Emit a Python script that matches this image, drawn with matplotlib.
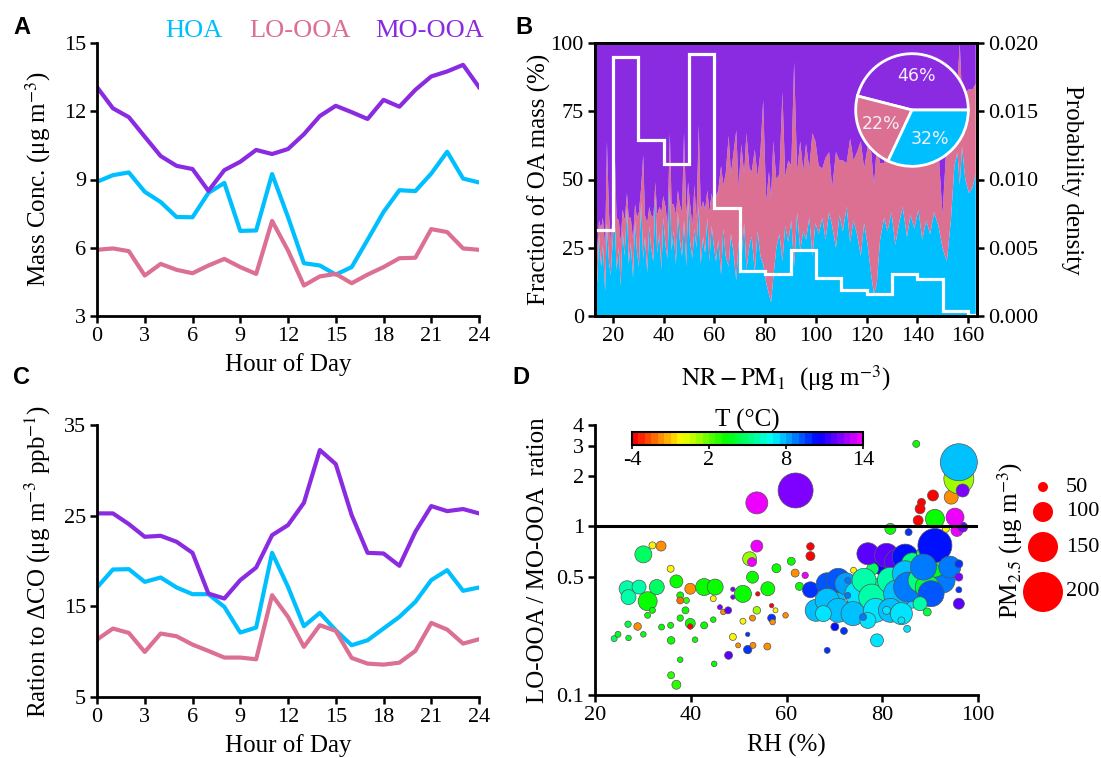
import numpy as np
import matplotlib
matplotlib.use('Agg')
import matplotlib.pyplot as plt
from matplotlib.colors import ListedColormap, Normalize
from matplotlib.cm import ScalarMappable
from matplotlib.ticker import NullLocator, FormatStrFormatter

plt.rcParams['font.family'] = 'serif'
plt.rcParams['font.serif'] = ['Liberation Serif', 'DejaVu Serif']
plt.rcParams['mathtext.fontset'] = 'stix'

HOA_C = '#00BFFF'
LO_C = '#DB7093'
MO_C = '#8A2BE2'

LAB = 18
TICK = 16

# diurnal cycles (hour 0..24)
hours = list(range(25))
hoa_conc = [8.90, 9.19, 9.31, 8.46, 8.01, 7.35, 7.34, 8.41, 8.85, 6.74, 6.76, 9.24, 7.35,
            5.32, 5.22, 4.82, 5.15, 6.35, 7.57, 8.53, 8.49, 9.26, 10.22, 9.04, 8.87]
lo_conc = [5.91, 5.97, 5.85, 4.78, 5.29, 5.03, 4.88, 5.22, 5.51, 5.15, 4.85, 7.18, 5.88,
           4.34, 4.74, 4.85, 4.44, 4.82, 5.15, 5.54, 5.56, 6.82, 6.69, 5.97, 5.91]
mo_conc = [13.06, 12.13, 11.74, 10.88, 10.03, 9.60, 9.46, 8.50, 9.41, 9.78, 10.30, 10.12, 10.34,
           10.99, 11.79, 12.24, 11.96, 11.66, 12.50, 12.20, 12.94, 13.53, 13.75, 14.04, 13.06]

hoa_co = [17.08, 19.06, 19.10, 17.70, 18.18, 17.08, 16.34, 16.34, 14.94, 12.11, 12.66, 20.90, 17.15,
          12.81, 14.28, 12.36, 10.71, 11.26, 12.55, 13.84, 15.49, 17.89, 18.99, 16.71, 17.08]
lo_co = [11.33, 12.55, 12.07, 9.97, 12.00, 11.70, 10.78, 10.08, 9.35, 9.35, 9.16, 16.23, 13.84,
         10.53, 12.92, 12.29, 9.31, 8.68, 8.57, 8.79, 10.08, 13.17, 12.44, 10.89, 11.37]
mo_co = [25.25, 25.25, 24.07, 22.67, 22.78, 22.12, 20.90, 16.41, 15.86, 17.89, 19.28, 22.85, 23.96,
         26.42, 32.24, 30.69, 25.06, 20.90, 20.83, 19.47, 23.22, 26.06, 25.50, 25.73, 25.25]

# OA fractions (%) sorted by NR-PM1
nr_pm1 = [13.0, 13.8, 14.5, 15.3, 16.0, 16.9, 17.6, 18.4, 19.1, 19.9,
          20.6, 21.4, 22.3, 23.0, 23.8, 24.6, 25.5, 26.2, 27.0, 27.9,
          28.7, 29.4, 30.2, 31.1, 31.9, 32.6, 33.5, 34.3, 35.0, 35.9,
          36.7, 37.4, 38.3, 39.1, 39.8, 40.7, 41.5, 42.4, 43.1, 43.9,
          44.8, 45.6, 46.3, 47.2, 48.0, 48.9, 49.6, 50.4, 51.3, 52.1,
          52.9, 53.8, 54.6, 55.5, 56.3, 57.2, 58.0, 58.9, 59.7,
          60.6, 61.5, 62.6, 63.5, 64.4, 65.6, 66.5, 67.4, 68.6, 69.5,
          70.6, 71.7, 72.6, 73.8, 74.7, 75.9, 77.0, 78.1, 79.2, 80.4,
          81.5, 82.3, 83.2, 84.4, 85.6, 86.8, 87.9, 89.1, 90.3, 91.4,
          92.6, 93.8, 95.0, 96.1, 97.4, 98.6, 99.8,
          101.1, 102.5, 103.8, 105.2, 106.4, 107.9, 109.3, 110.6, 112.1, 113.5,
          114.8, 116.2, 117.7, 119.0, 120.4, 121.8, 122.9, 124.0, 125.3, 126.9,
          128.2, 129.8, 131.3, 132.8, 134.2, 135.9, 137.3, 138.8, 140.4, 141.9,
          143.5, 145.0, 146.6, 148.3, 149.9,
          151.6, 153.2, 154.6, 155.8, 156.7, 157.6, 158.9, 160.3, 161.7, 163.0]
hoa_frac = [22, 12, 30, 18, 26, 9, 34, 20, 15, 28, 38, 17, 25, 11, 31, 22, 40, 19, 27, 14,
            35, 24, 18, 42, 21, 29, 16, 33, 25, 20, 44, 23, 30, 17, 36, 26, 21, 47, 24, 31,
            19, 38, 28, 22, 35, 18, 43, 27, 21, 32, 25, 40, 19, 29, 23, 36, 20, 33, 26,
            20, 28, 15, 32, 22, 18, 30, 24, 13, 27, 21, 34, 17, 26, 29, 16, 31, 22, 19, 12,
            8, 5, 14, 25, 30, 20, 33, 27, 35, 18, 38, 24, 31, 28, 36, 22, 34,
            30, 36, 28, 38, 33, 25, 37, 31, 40, 27, 35, 30, 22, 34, 26, 15, 8, 12, 28, 36,
            31, 38, 26, 34, 40, 29, 37, 32, 39, 28, 35, 30, 38, 33, 25,
            20, 35, 55, 60, 48, 62, 50, 45, 47, 52]
lo_frac = [8, 13, 5, 14, 10, 16, 30, 18, 12, 9, 25, 19, 10, 16, 8, 13, 5, 17, 9, 14,
           6, 12, 20, 5, 38, 8, 18, 7, 12, 16, 5, 14, 10, 21, 8, 14, 12, 20, 17, 10,
           18, 8, 13, 16, 32, 19, 6, 14, 12, 16, 10, 30, 20, 13, 16, 10, 18, 12, 14,
           24, 18, 40, 16, 30, 48, 22, 35, 55, 20, 42, 18, 50, 28, 24, 45, 20, 38, 60, 30,
           45, 38, 50, 25, 22, 62, 18, 30, 20, 75, 15, 40, 22, 35, 18, 45, 30,
           25, 18, 30, 22, 14, 35, 20, 26, 16, 38, 22, 30, 42, 20, 36, 45, 40, 50, 28, 20,
           32, 18, 40, 26, 15, 34, 24, 30, 18, 38, 25, 42, 20, 28, 12,
           45, 30, 20, 25, 52, 18, 32, 38, 36, 33]

# NR-PM1 probability density, 10 ug/m3 bins
pd_edges = [10, 20, 30, 40, 50, 60, 70, 80, 90, 100, 110, 120, 130, 140, 150, 160, 170]
pd_density = [0.0063, 0.0190, 0.0129, 0.0111, 0.0192, 0.0079, 0.0033, 0.0031,
              0.0048, 0.0028, 0.0019, 0.0016, 0.0031, 0.0027, 0.0004, 0.0001]

pie_labels = ['MO-OOA', 'LO-OOA', 'HOA']
pie_share = [46, 22, 32]

# hourly LO-OOA/MO-OOA ratio vs RH
rh = [24.0, 24.8, 26.9, 27.0, 26.7, 27.0, 28.9, 30.1, 30.1, 31.0,
      31.0, 32.0, 32.0, 33.8, 32.9, 29.2, 33.9, 35.8, 37.0, 35.8,
      35.9, 35.9, 37.0, 37.8, 37.8, 37.8, 37.8, 38.9, 39.1, 39.9,
      39.9, 39.9, 40.9, 42.8, 45.1, 42.8, 44.7, 44.9, 44.7, 46.1,
      46.8, 47.8, 47.9, 48.8, 48.8, 48.8, 49.9, 50.9, 50.9, 51.9,
      51.9, 51.9, 52.3, 52.8, 52.9, 53.0, 52.9, 53.8, 53.8, 54.0,
      56.1, 56.9, 56.9, 57.1, 57.7, 56.0, 57.9, 59.8, 61.0, 61.8,
      63.9, 65.0, 65.0, 53.8, 61.9, 62.7,
      75.0, 79.5, 82.5, 86.0, 89.0, 71.5, 92.5, 80.0, 88.0, 74.0, 78.0,
      65.0, 68.5, 70.8, 72.4, 66.2, 68.5, 70.8, 67.7, 74.7, 73.9,
      76.2, 77.8, 78.6, 77.0, 78.9, 68.5, 72.0, 70.1, 72.8, 72.8,
      76.0, 77.0, 80.9, 83.2, 81.7, 85.5, 87.1, 84.8, 86.3, 81.7,
      83.2, 84.8, 81.7, 84.0, 85.5, 87.9, 89.4, 91.0, 88.6, 92.6,
      91.0, 88.6, 90.2, 87.9, 89.4, 85.2, 84.0, 80.9, 94.1, 96.0,
      96.0, 96.0, 96.0, 95.6, 96.8, 95.2, 91.0, 93.3, 87.5, 87.9,
      88.2, 90.6, 94.4, 96.0, 96.8, 96.0]
ratio = [0.216, 0.229, 0.263, 0.218, 0.427, 0.381, 0.255, 0.229, 0.683, 0.360,
         0.297, 0.318, 0.772, 0.765, 0.437, 0.437, 0.253, 0.561, 0.472, 0.259,
         0.211, 0.131, 0.115, 0.162, 0.286, 0.390, 0.364, 0.318, 0.364, 0.427,
         0.266, 0.255, 0.213, 0.437, 0.437, 0.259, 0.280, 0.153, 0.373, 0.332,
         0.311, 0.318, 0.172, 0.221, 0.424, 0.381, 0.197, 0.398, 0.274, 0.184,
         0.229, 0.186, 0.643, 0.615, 0.286, 0.197, 0.500, 0.318, 0.765, 0.398,
         0.427, 0.339, 0.286, 0.271, 0.318, 0.194, 0.565, 0.297, 0.622, 0.529,
         0.513, 0.761, 0.667, 1.380, 1.635, 0.441,
         0.350, 0.420, 0.560, 0.380, 0.520, 0.420, 0.480, 0.580, 0.620, 0.550, 0.560,
         0.421, 0.457, 0.479, 0.457, 0.318, 0.364, 0.318, 0.304, 0.399, 0.304,
         0.479, 0.381, 0.318, 0.277, 0.211, 0.184, 0.240, 0.254, 0.479, 0.390,
         0.290, 0.689, 0.674, 0.615, 0.968, 0.925, 3.090, 0.658, 0.600, 0.479,
         0.399, 0.524, 0.318, 0.304, 0.437, 0.479, 0.437, 0.574, 0.689, 0.629,
         0.771, 0.574, 0.399, 0.348, 0.311, 0.247, 0.277, 0.318, 0.574, 0.600,
         0.501, 0.421, 0.348, 0.947, 0.991, 1.136, 1.110, 0.969, 1.086, 1.273,
         1.390, 1.527, 1.493, 1.917, 1.635, 2.405]
temp = [4.5, 3.5, 4.0, 3.5, 5.5, 5.5, -2.0, 3.5, 4.8, 3.0,
        3.0, 3.0, -0.5, -1.8, 4.5, 5.5, 3.0, -0.5, 3.0, 3.0,
        3.0, 2.5, 2.5, 3.0, 3.0, 3.0, -2.2, 3.0, 2.5, -2.0,
        3.0, -3.8, 3.0, 3.0, 3.0, 3.0, 3.0, 3.0, -0.5, 12.0,
        -1.8, 11.5, 11.5, -0.5, 12.0, 12.0, -2.0, 3.0, -0.5, -2.0,
        9.5, 9.5, 1.0, 13.5, -2.0, -2.0, 3.0, 1.0, 13.5, -3.8,
        3.0, -3.8, 9.5, -2.0, -0.5, -1.8, 3.0, -1.8, 3.0, -1.8,
        13.5, -3.8, -3.8, 13.5, 12.0, 3.0,
        7.0, 5.2, 4.5, 7.0, 7.8, 7.8, 8.8, 10.5, 10.5, -0.5, 4.5,
        9.8, 9.2, 9.0, 8.2, 7.6, 7.6, 7.6, 7.4, 7.4, 7.6,
        5.5, 5.8, 7.4, 7.4, 7.4, 9.5, 9.5, 10.0, 8.5, 8.5,
        8.5, 11.8, 11.8, 11.5, 3.0, 9.5, 3.0, 10.0, 5.0, 5.5,
        7.6, 7.6, 7.6, 7.4, 8.5, 5.0, 4.0, 3.5, 4.5, 4.8,
        10.0, 8.5, 9.0, 5.5, 4.0, 7.4, 7.4, 7.4, 8.5, 9.8,
        12.0, 9.5, 11.5, 13.5, 12.0, 13.5, 3.0, -0.5, -3.8, -3.8,
        -3.8, -3.8, -2.0, 1.0, 12.0, 7.8]
pm25 = [30, 30, 32, 28, 80, 75, 38, 28, 85, 95,
        30, 30, 35, 50, 75, 70, 30, 35, 65, 30,
        38, 35, 45, 28, 32, 35, 35, 35, 30, 55,
        50, 28, 28, 85, 80, 35, 28, 28, 30, 25,
        28, 35, 40, 35, 22, 22, 25, 85, 30, 30,
        22, 42, 70, 45, 30, 30, 60, 38, 60, 22,
        70, 22, 40, 28, 25, 35, 45, 28, 40, 40,
        32, 38, 45, 110, 175, 40,
        110, 120, 100, 110, 120, 100, 130, 90, 100, 30, 60,
        80, 110, 120, 110, 110, 120, 120, 80, 120, 120,
        120, 130, 120, 80, 65, 30, 35, 40, 30, 30,
        35, 110, 120, 130, 55, 35, 35, 130, 110, 130,
        140, 130, 120, 110, 150, 120, 120, 100, 70, 70,
        170, 130, 130, 70, 40, 35, 35, 40, 110, 40,
        40, 30, 55, 60, 50, 90, 95, 35, 50, 50,
        40, 55, 70, 150, 65, 185]

key_pm = [50, 100, 150, 200]

W, H = 1101, 758
fig = plt.figure(figsize=(W / 100, H / 100), dpi=100)


def px_axes(l, t, r, b):
    return fig.add_axes([l / W, 1 - b / H, (r - l) / W, (b - t) / H])


def style(ax, box=False):
    for s in ['left', 'bottom', 'top', 'right']:
        ax.spines[s].set_linewidth(2.0)
    if not box:
        ax.spines['top'].set_visible(False)
        ax.spines['right'].set_visible(False)
    ax.tick_params(direction='out', length=5, width=1.8, labelsize=TICK, pad=3)


def pm_size(v):
    # marker diameter of v/5 px, as area in pt^2
    return (np.asarray(v) * 0.144) ** 2


# A: mass concentration diurnal
axA = px_axes(97, 43, 479, 316)
axA.plot(hours, hoa_conc, color=HOA_C, lw=3)
axA.plot(hours, lo_conc, color=LO_C, lw=3)
axA.plot(hours, mo_conc, color=MO_C, lw=3)
axA.set_xlim(0, 24)
axA.set_ylim(3, 15)
axA.set_xticks(range(0, 25, 3))
axA.set_yticks(range(3, 16, 3))
axA.set_xlabel('Hour of Day', fontsize=LAB, labelpad=5)
axA.set_ylabel('Mass Conc. (μg m$^{-3}$)', fontsize=LAB, labelpad=8)
style(axA)

for name, col, xp in zip(['HOA', 'LO-OOA', 'MO-OOA'], [HOA_C, LO_C, MO_C], [194, 300, 430]):
    fig.text(xp / W, 1 - 31 / H, name, color=col, fontsize=19, ha='center', va='center')

# C: ratio to delta CO
axC = px_axes(97, 425, 479, 697)
axC.plot(hours, hoa_co, color=HOA_C, lw=3)
axC.plot(hours, lo_co, color=LO_C, lw=3)
axC.plot(hours, mo_co, color=MO_C, lw=3)
axC.set_xlim(0, 24)
axC.set_ylim(5, 35)
axC.set_xticks(range(0, 25, 3))
axC.set_yticks([5, 15, 25, 35])
axC.set_xlabel('Hour of Day', fontsize=LAB, labelpad=5)
axC.set_ylabel('Ration to ΔCO (μg m$^{-3}$ ppb$^{-1}$)', fontsize=LAB, labelpad=8)
style(axC)

# B: stacked OA fractions + NR-PM1 histogram + pie
x = np.array(nr_pm1)
hoa = np.array(hoa_frac, dtype=float)
lo = np.array(lo_frac, dtype=float)
mo = 100 - hoa - lo
axB = px_axes(595, 43, 977, 316)
axB.stackplot(x, hoa, lo, mo, colors=[HOA_C, LO_C, MO_C], linewidth=0)
axB.set_xlim(12.9, 163.5)
axB.set_ylim(0, 100)
axB.set_xticks(range(20, 161, 20))
axB.set_yticks([0, 25, 50, 75, 100])
axB.set_xlabel(r'$\mathrm{NR-PM_1}$  (μg m$^{-3}$)', fontsize=LAB, labelpad=12)
axB.set_ylabel('Fraction of OA mass (%)', fontsize=LAB, labelpad=0)
style(axB, box=True)

axB2 = axB.twinx()
axB2.stairs(pd_density, pd_edges, color='white', lw=2.3, baseline=None)
axB2.set_ylim(0, 0.02)
axB2.set_yticks([0, 0.005, 0.01, 0.015, 0.02])
axB2.yaxis.set_major_formatter(FormatStrFormatter('%.3f'))
axB2.set_ylabel('Probability density', fontsize=LAB, rotation=270, labelpad=32)
style(axB2, box=True)

axP = px_axes(854, 52, 970, 168)
axP.pie(pie_share, colors=[MO_C, LO_C, HOA_C], startangle=0, counterclock=True,
        autopct='%.0f%%', pctdistance=0.6,
        wedgeprops=dict(edgecolor='white', linewidth=2),
        textprops=dict(color='#F3EEF8', fontsize=12.5, family='DejaVu Sans'))
axP.set_xlim(-1.03, 1.03)
axP.set_ylim(-1.03, 1.03)
axP.set_aspect('equal')

# D: bubble scatter coloured by temperature, sized by PM2.5
cmap = ListedColormap(plt.cm.hsv(np.linspace(0, 0.833, 36)))
norm = Normalize(-4, 14)
axD = px_axes(595, 425, 978, 695)
axD.scatter(rh, ratio, s=pm_size(pm25), c=temp, cmap=cmap, norm=norm,
            edgecolors='#555555', linewidths=0.5, zorder=3)
axD.axhline(1, color='black', lw=2.2, zorder=4)
axD.set_yscale('log')
axD.set_xlim(20, 100)
axD.set_ylim(0.1, 4)
axD.set_xticks([20, 40, 60, 80, 100])
axD.set_yticks([0.1, 0.5, 1, 2, 3, 4])
axD.set_yticklabels(['0.1', '0.5', '1', '2', '3', '4'])
axD.yaxis.set_minor_locator(NullLocator())
axD.set_xlabel('RH (%)', fontsize=LAB, labelpad=6)
axD.set_ylabel('LO-OOA / MO-OOA  ration', fontsize=LAB, labelpad=5)
style(axD)

cax = px_axes(632, 432, 863, 445)
cb = fig.colorbar(ScalarMappable(norm=norm, cmap=cmap), cax=cax, orientation='horizontal')
cb.set_ticks([-4, 2, 8, 14])
cb.set_ticklabels(['-4', '2', '8', '14'])
cb.outline.set_linewidth(1.5)
cax.tick_params(labelsize=TICK, length=3, width=1.2, pad=1)
cax.set_title('T (°C)', fontsize=LAB, pad=2)

# PM2.5 size key, circles stacked with a fixed gap
kax = px_axes(1020, 470, 1100, 620)
kax.set_xlim(0, 80)
kax.set_ylim(150, 0)
kax.axis('off')
centers = []
yc = 17
for i, v in enumerate(key_pm):
    if i:
        yc += key_pm[i - 1] / 10 + 10 + v / 10
    centers.append(yc)
kax.scatter([23] * len(key_pm), centers, s=pm_size(key_pm), color='red', edgecolors='none')
for v, yc in zip(key_pm, centers):
    kax.text(46, yc, str(v), fontsize=TICK, va='center', ha='left')
fig.text(1010 / W, 1 - 540 / H, 'PM$_{2.5}$ (μg m$^{-3}$)', rotation=90,
         fontsize=LAB, ha='center', va='center')

for lab, xp, yp in [('A', 22, 27), ('B', 524, 27), ('C', 22, 378), ('D', 521, 377)]:
    fig.text(xp / W, 1 - yp / H, lab, fontsize=17, fontweight='bold',
             family='Liberation Sans', ha='center', va='center')

fig.savefig('out.png', dpi=100)
